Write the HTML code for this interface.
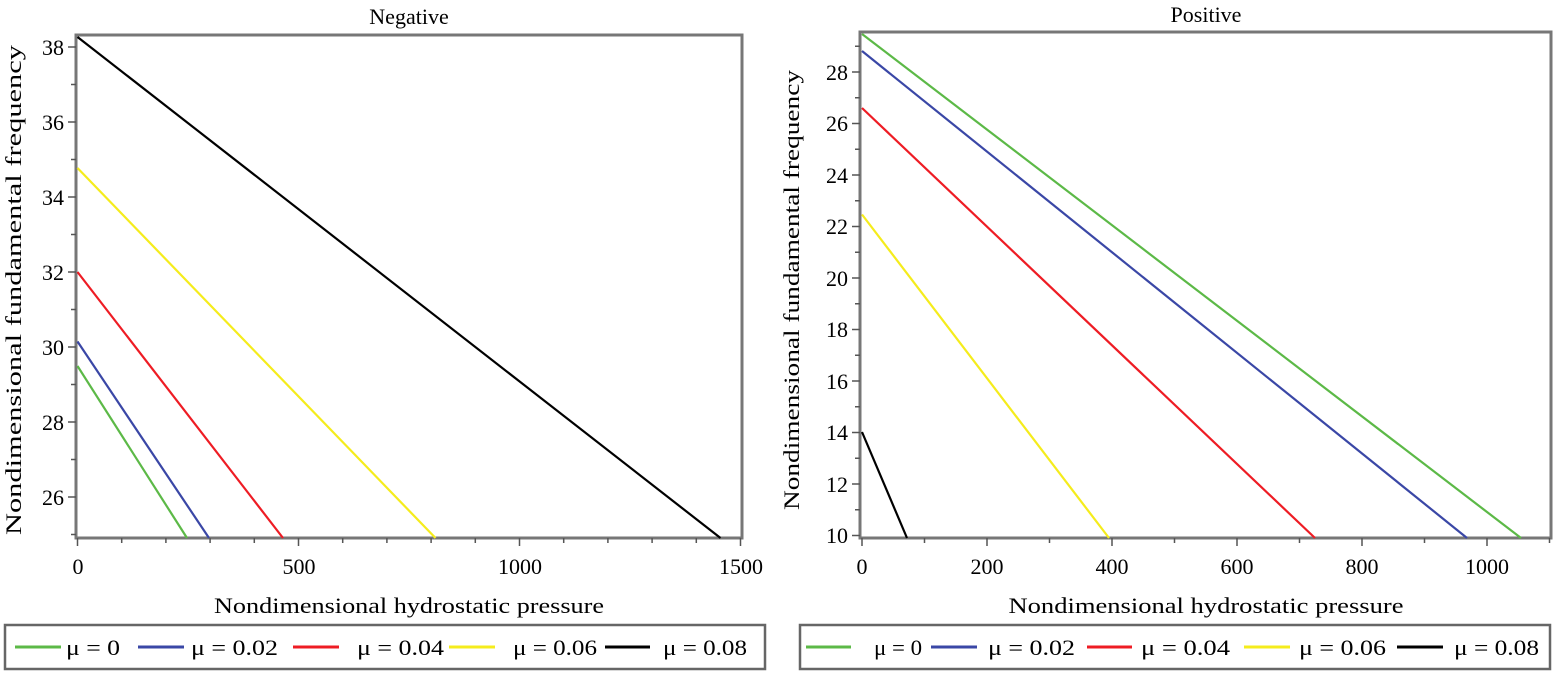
<!DOCTYPE html>
<html><head><meta charset="utf-8"><style>html,body{margin:0;padding:0;background:#fff}svg{display:block}text{font-family:"Liberation Serif",serif;fill:#000}</style></head><body>
<svg width="1555" height="675" viewBox="0 0 1555 675" xmlns="http://www.w3.org/2000/svg">
<!-- LEFT PLOT -->
<text x="409" y="24" font-size="22" text-anchor="middle">Negative</text>
<g stroke="#777" stroke-width="3" fill="none"><path d="M76 35 H742 V538 H76 Z"/></g>
<g stroke="#555" stroke-width="1.5">
<path d="M77.5 538v8M298.5 538v8M519.5 538v8M740.5 538v8"/>
<path d="M121.7 538v5M165.9 538v5M210.1 538v5M254.3 538v5M342.7 538v5M386.9 538v5M431.1 538v5M475.3 538v5M563.7 538v5M607.9 538v5M652.1 538v5M696.3 538v5"/>
<path d="M68 47h8M68 122h8M68 197h8M68 272h8M68 347h8M68 422h8M68 497h8"/>
<path d="M71 84.5h5M71 159.5h5M71 234.5h5M71 309.5h5M71 384.5h5M71 459.5h5M71 534.5h5"/>
</g>
<g font-size="22" text-anchor="end">
<text x="64" y="55">38</text><text x="64" y="130">36</text><text x="64" y="205">34</text><text x="64" y="280">32</text><text x="64" y="355">30</text><text x="64" y="430">28</text><text x="64" y="505">26</text>
</g>
<g font-size="22" text-anchor="middle">
<text x="78" y="574">0</text><text x="299" y="574">500</text><text x="520" y="574">1000</text><text x="741" y="574">1500</text>
</g>
<text x="409" y="613" font-size="22" text-anchor="middle" textLength="390" lengthAdjust="spacingAndGlyphs">Nondimensional hydrostatic pressure</text>
<text transform="translate(21 290) rotate(-90)" font-size="22" text-anchor="middle" textLength="490" lengthAdjust="spacingAndGlyphs">Nondimensional fundamental  frequency</text>
<g stroke-width="2.2" fill="none">
<path d="M77.5 37 L720.5 538" stroke="#000"/>
<path d="M77.5 168 L435.5 538" stroke="#f5ec1c"/>
<path d="M77.5 272 L283 538" stroke="#ee1c24"/>
<path d="M77.5 341.5 L209 538" stroke="#3a47a6"/>
<path d="M77.5 366 L187 538" stroke="#5cb947"/>
</g>
<rect x="5" y="625" width="760" height="44" fill="none" stroke="#666" stroke-width="2.5"/>
<g stroke-width="3">
<path d="M15 647h46" stroke="#5cb947"/><path d="M138 647h46" stroke="#3a47a6"/><path d="M293 647h46" stroke="#ee1c24"/><path d="M449 647h46" stroke="#f5ec1c"/><path d="M605 647h45" stroke="#000"/>
</g>
<g font-size="22"><text x="66" y="655" textLength="54" lengthAdjust="spacingAndGlyphs">μ = 0</text><text x="191" y="655" textLength="87" lengthAdjust="spacingAndGlyphs">μ = 0.02</text><text x="357" y="655" textLength="87" lengthAdjust="spacingAndGlyphs">μ = 0.04</text><text x="513" y="655" textLength="84" lengthAdjust="spacingAndGlyphs">μ = 0.06</text><text x="663" y="655" textLength="84" lengthAdjust="spacingAndGlyphs">μ = 0.08</text></g>

<!-- RIGHT PLOT -->
<text x="1206" y="22" font-size="22" text-anchor="middle">Positive</text>
<g stroke="#777" stroke-width="3" fill="none"><path d="M860 32 H1551 V538 H860 Z"/></g>
<g stroke="#555" stroke-width="1.5">
<path d="M862 538v8M987 538v8M1112 538v8M1237 538v8M1362 538v8M1487 538v8"/>
<path d="M924.5 538v5M1049.5 538v5M1174.5 538v5M1299.5 538v5M1424.5 538v5M1549.5 538v5"/>
<path d="M852 72h8M852 123.5h8M852 175h8M852 226.5h8M852 278h8M852 329.5h8M852 381h8M852 432.5h8M852 484h8M852 535.5h8"/>
<path d="M855 46.25h5M855 97.75h5M855 149.25h5M855 200.75h5M855 252.25h5M855 303.75h5M855 355.25h5M855 406.75h5M855 458.25h5M855 509.75h5"/>
</g>
<g font-size="22" text-anchor="end">
<text x="848" y="80">28</text><text x="848" y="131">26</text><text x="848" y="183">24</text><text x="848" y="234">22</text><text x="848" y="286">20</text><text x="848" y="337">18</text><text x="848" y="389">16</text><text x="848" y="440">14</text><text x="848" y="492">12</text><text x="848" y="543">10</text>
</g>
<g font-size="22" text-anchor="middle">
<text x="862" y="574">0</text><text x="987" y="574">200</text><text x="1112" y="574">400</text><text x="1237" y="574">600</text><text x="1362" y="574">800</text><text x="1487" y="574">1000</text>
</g>
<text x="1206" y="613" font-size="22" text-anchor="middle" textLength="395" lengthAdjust="spacingAndGlyphs">Nondimensional hydrostatic pressure</text>
<text transform="translate(799 290) rotate(-90)" font-size="22" text-anchor="middle" textLength="440" lengthAdjust="spacingAndGlyphs">Nondimensional fundamental  frequency</text>
<g stroke-width="2.2" fill="none">
<path d="M862 34 L1521 538" stroke="#5cb947"/>
<path d="M862 51 L1467 538" stroke="#3a47a6"/>
<path d="M862 108 L1315 538" stroke="#ee1c24"/>
<path d="M862 214.5 L1109 538" stroke="#f5ec1c"/>
<path d="M862 432 L907 538" stroke="#000"/>
</g>
<rect x="800" y="625" width="750" height="44" fill="none" stroke="#666" stroke-width="2.5"/>
<g stroke-width="3">
<path d="M806 647h45" stroke="#5cb947"/><path d="M931 647h46" stroke="#3a47a6"/><path d="M1087 647h45" stroke="#ee1c24"/><path d="M1244 647h46" stroke="#f5ec1c"/><path d="M1397 647h46" stroke="#000"/>
</g>
<g font-size="22"><text x="874" y="655" textLength="48" lengthAdjust="spacingAndGlyphs">μ = 0</text><text x="988" y="655" textLength="87" lengthAdjust="spacingAndGlyphs">μ = 0.02</text><text x="1141" y="655" textLength="89" lengthAdjust="spacingAndGlyphs">μ = 0.04</text><text x="1299" y="655" textLength="87" lengthAdjust="spacingAndGlyphs">μ = 0.06</text><text x="1454" y="655" textLength="85" lengthAdjust="spacingAndGlyphs">μ = 0.08</text></g>
</svg>
</body></html>
